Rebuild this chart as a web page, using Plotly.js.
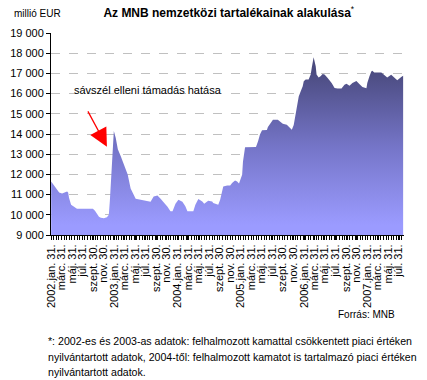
<!DOCTYPE html>
<html>
<head>
<meta charset="utf-8">
<script src="https://cdn.plot.ly/plotly-3.0.1.min.js"></script>
<style>html,body{margin:0;padding:0;background:#fff;}#chart{width:427px;height:380px;}</style>
</head>
<body>
<div id="chart"></div>
<script>
// Dates of the observations
const dates = [
 '2002-01-31','2002-02-17','2002-03-06','2002-03-18','2002-04-04','2002-04-21','2002-05-03','2002-05-09','2002-05-14','2002-05-26',
 '2002-06-12','2002-06-29','2002-08-20','2002-09-29','2002-10-11','2002-10-22','2002-11-03','2002-11-14','2002-12-01','2002-12-19',
 '2002-12-30','2003-01-05','2003-01-11','2003-01-16','2003-01-22','2003-01-28','2003-02-08','2003-02-20','2003-03-09','2003-03-26',
 '2003-04-18','2003-05-05','2003-05-23','2003-06-03','2003-07-02','2003-08-11','2003-08-28','2003-09-15','2003-10-07','2003-10-25',
 '2003-11-11','2003-12-04','2003-12-21','2004-01-02','2004-01-19','2004-02-05','2004-02-28','2004-03-16','2004-03-28','2004-05-01',
 '2004-05-13','2004-05-30','2004-06-22','2004-07-03','2004-07-26','2004-08-18','2004-08-24','2004-09-22','2004-10-03','2004-10-21',
 '2004-11-13','2004-11-30','2004-12-11','2004-12-28','2005-01-09','2005-01-20','2005-02-07','2005-02-12','2005-02-24','2005-04-28',
 '2005-05-10','2005-05-21','2005-06-02','2005-06-30','2005-07-06','2005-07-23','2005-08-04','2005-09-01','2005-09-19','2005-09-30',
 '2005-10-23','2005-11-04','2005-11-21','2005-12-02','2005-12-14','2005-12-20','2005-12-31','2006-01-11','2006-01-23','2006-01-29',
 '2006-02-09','2006-02-26','2006-03-10','2006-03-16','2006-03-27','2006-04-08','2006-04-13','2006-04-25','2006-05-06','2006-05-18',
 '2006-05-29','2006-06-16','2006-07-09','2006-07-26','2006-08-12','2006-09-04','2006-09-21','2006-10-03','2006-10-20','2006-11-06',
 '2006-11-29','2006-12-16','2007-01-03','2007-01-26','2007-01-31','2007-02-12','2007-02-23','2007-03-01','2007-03-12','2007-04-22',
 '2007-05-09','2007-05-26','2007-06-18','2007-07-05','2007-07-23','2007-08-15','2007-08-26'
];
// Reserves, million EUR
const reserves = [
 11650,11450,11200,11100,11050,11100,11150,11100,10850,10500,
 10400,10300,10300,10300,10200,10050,9900,9850,9830,9880,
 10000,10700,11500,12400,13500,14150,13800,13250,12900,12500,
 12000,11300,11000,10800,10750,10700,10650,10900,10950,10800,
 10650,10400,10170,10170,10550,10750,10650,10420,10170,10170,
 10500,10780,10660,10550,10700,10660,10580,10500,10750,11400,
 11450,11450,11570,11700,11650,11550,11980,12640,13340,13360,
 13640,13970,14180,14200,14350,14550,14710,14710,14580,14510,
 14460,14350,14210,14450,15040,15450,15860,16110,16360,16610,
 16700,16700,16940,17270,17800,17360,16940,16800,16860,16970,
 16950,16770,16525,16280,16250,16250,16440,16490,16390,16525,
 16620,16475,16330,16260,16525,16850,17100,17130,17040,17040,
 16935,16800,16935,16800,16655,16820,16886
];
// Axis tick dates and labels
const tickDates = [];
const tickLabels = [];
const monthEnds = [['01-31','jan. 31.'],['03-31','márc. 31.'],['05-31','máj. 31.'],['07-31','júl. 31.'],['09-30','szept. 30.'],['11-30','nov. 30.']];
const years = [2002,2003,2004,2005,2006,2007];
years.forEach(y => {
  monthEnds.forEach((m, i) => {
    if (y === 2007 && i > 3) return;
    tickDates.push(y + '-' + m[0]);
    tickLabels.push(i === 0 ? y + '.' + m[1] : m[1]);
  });
});
const footnoteLines = [
  '*: 2002-es és 2003-as adatok: felhalmozott kamattal csökkentett piaci értéken',
  'nyilvántartott adatok, 2004-től: felhalmozott kamatot is tartalmazó piaci értéken',
  'nyilvántartott adatok.'
];

const FONT = 'Liberation Sans, Arial, sans-serif';

const trace = {
  x: dates, y: reserves, type: 'scatter', mode: 'lines',
  line: {width: 0, color: '#6a6ab0'},
  fill: 'tozeroy',
  fillgradient: {type: 'vertical', start: 9500, stop: 17200,
    colorscale: [[0, '#9b9bff'], [0.5, '#7575c8'], [1, '#4a4a7e']]},
  hoverinfo: 'x+y'
};

const W = 427, H = 380, L = 51, R = 23, T = 33, B = 145;
const pw = W - L - R, ph = H - T - B;
const px = x => (x - L) / pw;
const py = y => (H - B - y) / ph;

const annotations = [
  {text: 'millió EUR', xref: 'paper', yref: 'paper', x: px(12), y: py(14),
   xanchor: 'left', yanchor: 'middle', showarrow: false, font: {family: FONT, size: 10}},
  {text: 'sávszél elleni támadás hatása', xref: 'paper', yref: 'paper', x: px(72), y: py(90),
   xanchor: 'left', yanchor: 'middle', showarrow: false, font: {family: FONT, size: 11}},
  {text: ' ', x: '2002-12-19', y: 13370, xref: 'x', yref: 'y',
   showarrow: true, axref: 'pixel', ayref: 'pixel', ax: -22, ay: -41,
   arrowcolor: '#ff0000', arrowwidth: 1.3, arrowhead: 2, arrowsize: 2.8, standoff: 0},
  {text: 'Forrás: MNB', xref: 'paper', yref: 'paper', x: px(397), y: py(314),
   xanchor: 'right', yanchor: 'middle', showarrow: false, font: {family: FONT, size: 10}}
];
footnoteLines.forEach((t, i) => {
  annotations.push({text: t, xref: 'paper', yref: 'paper', x: px(46), y: py(341 + i * 15.5),
    xanchor: 'left', yanchor: 'middle', showarrow: false, font: {family: FONT, size: 10.6}});
});

const layout = {
  width: W, height: H,
  margin: {l: L, r: R, t: T, b: B, pad: 0},
  paper_bgcolor: '#fff', plot_bgcolor: '#fff',
  separators: ', ',
  font: {family: FONT, size: 11, color: '#000'},
  showlegend: false,
  title: {text: '<b>Az MNB nemzetközi tartalékainak alakulása</b><sup>*</sup>',
    font: {family: FONT, size: 12, color: '#000'},
    x: 215 / W, xanchor: 'center', xref: 'paper', y: 1 - 13 / H, yanchor: 'middle'},
  xaxis: {
    type: 'date', range: ['2002-01-30', '2007-08-31'],
    tickmode: 'array', tickvals: tickDates, ticktext: tickLabels,
    tickangle: -90, tickfont: {family: FONT, size: 11, color: '#000'},
    showgrid: false, zeroline: false,
    showline: true, linecolor: '#000', linewidth: 1,
    ticks: 'outside', ticklen: 4, tickcolor: '#000', tickwidth: 1,
    minor: {ticks: 'outside', ticklen: 4, tickcolor: '#000', tickwidth: 1,
      tick0: '2002-01-31', dtick: 15 * 86400000, showgrid: false}
  },
  yaxis: {
    range: [9000, 19000], dtick: 1000, tick0: 9000, tickformat: ',d',
    tickfont: {family: FONT, size: 11, color: '#000'},
    showgrid: true, gridcolor: '#c0c0c0', griddash: 'dash', gridwidth: 1,
    zeroline: false, showline: true, linecolor: '#000', linewidth: 1,
    ticks: 'outside', ticklen: 4, tickcolor: '#000'
  },
  annotations: annotations
};

Plotly.newPlot('chart', [trace], layout, {staticPlot: true, displayModeBar: false});
</script>
</body>
</html>
